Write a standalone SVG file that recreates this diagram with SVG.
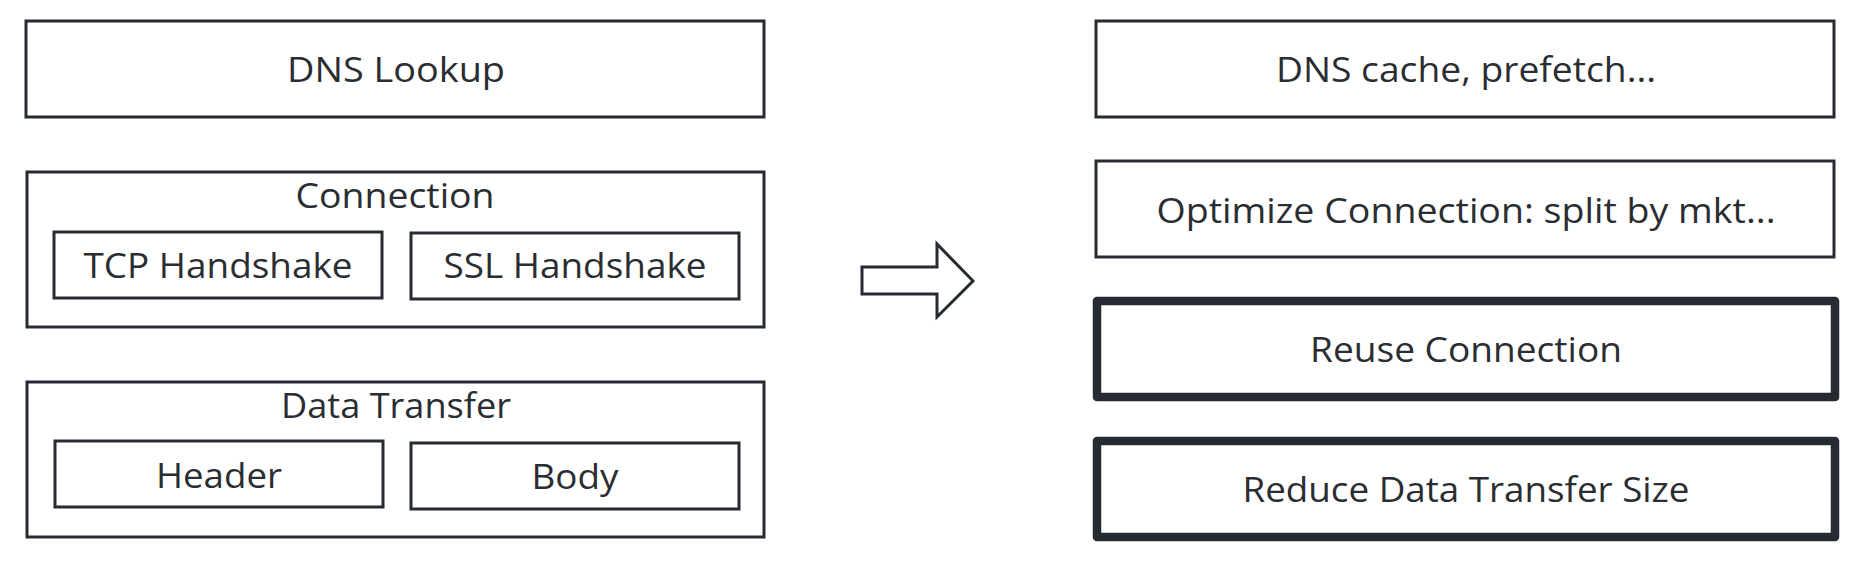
<svg xmlns="http://www.w3.org/2000/svg" width="1866" height="564" viewBox="0 0 1866 564">
<style>
.box{fill:#fff;stroke:#262b31;stroke-width:3}
.thick{fill:#fff;stroke:#262b31;stroke-width:8.5;stroke-linejoin:round}
text{font-family:"Open Sans","Noto Sans","Liberation Sans",sans-serif;font-size:35px;fill:#2a2d31;text-anchor:middle}
</style>
<rect width="1866" height="564" fill="#fff"/>
<g id="dns-lookup"><rect class="box" x="26" y="21" width="738" height="96"/><text x="396" y="82" textLength="218" lengthAdjust="spacingAndGlyphs">DNS Lookup</text></g>
<g id="connection"><rect class="box" x="27" y="172" width="737" height="155"/><text x="395" y="208" textLength="199" lengthAdjust="spacingAndGlyphs">Connection</text></g>
<g id="tcp"><rect class="box" x="54" y="232" width="328" height="66"/><text x="218" y="278" textLength="269" lengthAdjust="spacingAndGlyphs">TCP Handshake</text></g>
<g id="ssl"><rect class="box" x="411" y="233" width="328" height="66"/><text x="575" y="278" textLength="263" lengthAdjust="spacingAndGlyphs">SSL Handshake</text></g>
<g id="data-transfer"><rect class="box" x="27" y="382" width="737" height="155"/><text x="396" y="418" textLength="230" lengthAdjust="spacingAndGlyphs">Data Transfer</text></g>
<g id="header"><rect class="box" x="55" y="441" width="328" height="66"/><text x="219" y="488" textLength="126" lengthAdjust="spacingAndGlyphs">Header</text></g>
<g id="body"><rect class="box" x="411" y="443" width="328" height="66"/><text x="575" y="489" textLength="87" lengthAdjust="spacingAndGlyphs">Body</text></g>
<g id="dns-cache"><rect class="box" x="1096" y="21" width="738" height="96"/><text x="1466" y="82" textLength="380" lengthAdjust="spacingAndGlyphs">DNS cache, prefetch...</text></g>
<g id="optimize"><rect class="box" x="1096" y="161" width="738" height="96"/><text x="1466" y="223" textLength="619" lengthAdjust="spacingAndGlyphs">Optimize Connection: split by mkt...</text></g>
<g id="reuse"><rect class="thick" x="1097" y="301" width="738" height="96"/><text x="1466" y="362" textLength="312" lengthAdjust="spacingAndGlyphs">Reuse Connection</text></g>
<g id="reduce"><rect class="thick" x="1097" y="441" width="738" height="96"/><text x="1466" y="502" textLength="447" lengthAdjust="spacingAndGlyphs">Reduce Data Transfer Size</text></g>
<g id="connectors"><path d="M862 267 L937 267 L937 244 L973 281 L937 317 L937 294 L862 294 Z" fill="#fff" stroke="#262b31" stroke-width="3" stroke-linejoin="miter"/></g>
</svg>
